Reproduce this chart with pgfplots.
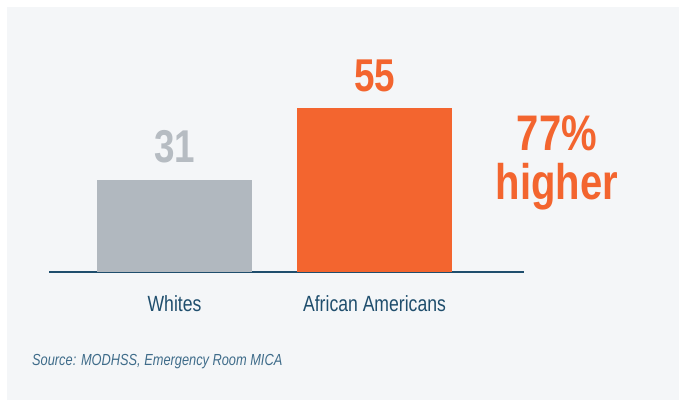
\documentclass[border=0pt]{standalone}
\usepackage{pgfplots}
\pgfplotsset{compat=1.18}
\usepackage{fontspec}
\setmainfont[FakeStretch=0.8]{Liberation Sans}
\definecolor{panel}{HTML}{F4F6F8}
\definecolor{barGray}{HTML}{B1B8BF}
\definecolor{lblGray}{HTML}{B6BCC2}
\definecolor{orng}{HTML}{F3652F}
\definecolor{navy}{HTML}{1F4E6D}
\definecolor{srcBlue}{HTML}{3F6C8A}
\begin{document}
\begin{tikzpicture}[x=1pt,y=1pt]
\fill[white] (0,0) rectangle (679,400);
\fill[panel] (7,0) rectangle (679,393);
\begin{axis}[
    at={(49pt,128pt)}, anchor=south west,
    scale only axis,
    width=475pt, height=265pt,
    xmin=-0.6275, xmax=1.7475,
    ymin=0, ymax=88.9,
    clip=false,
    axis x line*=bottom,
    axis y line=none,
    x axis line style={-, navy, line width=1.4pt},
    xtick={0,1},
    xticklabels={Whites, African Americans},
    xtick style={draw=none},
    xticklabel style={anchor=base, yshift=-35pt, text=navy,
        font=\fontsize{22}{26}\selectfont},
    ybar, bar width=155pt, bar shift=0pt,
    nodes near coords={\bfseries\fontsize{46}{50}\selectfont
        \pgfmathprintnumber[assume math mode=true]{\pgfplotspointmeta}},
    nodes near coords style={anchor=south, inner sep=0pt, yshift=16pt},
]
\addplot[fill=barGray, draw=none,
    nodes near coords style={text=lblGray}] coordinates {(0,31)};
\addplot[fill=orng, draw=none,
    nodes near coords style={text=orng}] coordinates {(1,55)};
\node[anchor=base, text=orng, font=\bfseries\fontsize{50}{54}\selectfont]
    at (axis cs:1.9125,40.9) {77\%};
\node[anchor=base, text=orng, font=\bfseries\fontsize{50}{54}\selectfont]
    at (axis cs:1.9125,24.2) {higher};
\end{axis}
\node[anchor=base west, inner sep=0pt, text=srcBlue,
    font=\itshape\fontsize{16}{19}\selectfont]
    at (32,35) {Source: MODHSS, Emergency Room MICA};
\end{tikzpicture}
\end{document}
